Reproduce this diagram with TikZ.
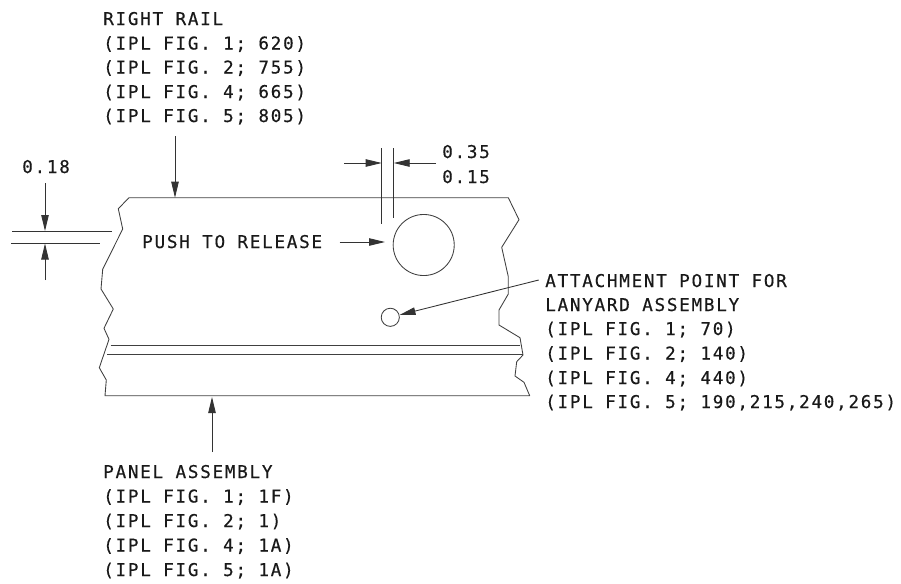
\documentclass[tikz,border=0pt]{standalone}
\usepackage{fontspec}
\setmainfont{DejaVu Sans}
\newfontfamily\cadfont[LetterSpace=9.9,FakeBold=0.4]{DejaVu Sans Mono}
\usetikzlibrary{arrows.meta}
\tikzset{
  every picture/.style={x=0.75pt,y=-0.75pt},
  outline/.style={draw=black!75,line width=0.65pt,line join=round},
  dimline/.style={draw=black!80,line width=0.65pt},
  pointer/.style={dimline,-{Triangle[length=12pt,width=5.6pt]}},
  cadtext/.style={inner sep=0pt,anchor=base west,font=\cadfont\fontsize{13.2pt}{15pt}\selectfont,text=black!90},
}
\begin{document}
\begin{tikzpicture}
\useasboundingbox (0,0) rectangle (901,583);
% panel outline
\draw[outline] (129,197.7) -- (508.3,197.7) -- (519,219.7) -- (501.7,247.3) -- (508.3,276.7) -- (508.3,294) -- (499,310) -- (499,325) -- (520,337.7) -- (523,355) -- (516.7,361.7) -- (515,376) -- (524,382.3) -- (529.7,395.7) -- (105,395.7) -- (106.3,380) -- (99.3,367.7) -- (109,339.3) -- (104,328.3) -- (113.3,309) -- (101,289) -- (102.7,269.3) -- (122.7,229) -- (118.3,208.7) -- cycle;
\draw[outline] (110.7,345) -- (520,345);
\draw[outline] (107,354.5) -- (523,354.5);
% circles
\node[outline,circle,minimum size=45.8pt,inner sep=0pt] (hole) at (423.7,245) {};
\node[outline,circle,minimum size=13.6pt,inner sep=0pt] (eye) at (390.3,317.3) {};
% coordinates
\coordinate (a1s) at (175,136); \coordinate (a1e) at (175,197.7);
\coordinate (a2s) at (212,452); \coordinate (a2e) at (212,397);
\coordinate (d1s) at (45,183); \coordinate (d1e) at (45,231);
\coordinate (d2s) at (45,280); \coordinate (d2e) at (45,243.5);
\coordinate (e1s) at (344,163); \coordinate (e1e) at (381.7,163);
\coordinate (e2s) at (436,163); \coordinate (e2e) at (393.7,163);
\coordinate (pushs) at (339.5,242); \coordinate (pushe) at (385,242);
\coordinate (ls) at (538.7,280);
% extension lines
\draw[dimline] (12,231) -- (112,231);
\draw[dimline] (11,243.5) -- (100,243.5);
\draw[dimline] (381.7,148) -- (381.7,224);
\draw[dimline] (393.7,148) -- (393.7,218);
% arrows
\draw[pointer] (a1s) -- (a1e);
\draw[pointer] (a2s) -- (a2e);
\draw[pointer] (d1s) -- (d1e);
\draw[pointer] (d2s) -- (d2e);
\draw[pointer] (e1s) -- (e1e);
\draw[pointer] (e2s) -- (e2e);
\draw[pointer] (pushs) -- (pushe);
\draw[pointer] (ls) -- (eye);
% text
\node[cadtext] (t018) at (22,173) {0.18};
\node[cadtext] (t035) at (442,158) {0.35};
\node[cadtext] (t015) at (442,183) {0.15};
\node[cadtext] (tpush) at (142,248) {PUSH TO RELEASE};
\node[cadtext] (r1) at (103,25) {RIGHT RAIL};
\node[cadtext] (r2) at (103,49.5) {(IPL FIG. 1; 620)};
\node[cadtext] (r3) at (103,73.5) {(IPL FIG. 2; 755)};
\node[cadtext] (r4) at (103,98) {(IPL FIG. 4; 665)};
\node[cadtext] (r5) at (103,122) {(IPL FIG. 5; 805)};
\node[cadtext] (l1) at (545,287) {ATTACHMENT POINT FOR};
\node[cadtext] (l2) at (545,311) {LANYARD ASSEMBLY};
\node[cadtext] (l3) at (545,335) {(IPL FIG. 1; 70)};
\node[cadtext] (l4) at (545,359.5) {(IPL FIG. 2; 140)};
\node[cadtext] (l5) at (545,384) {(IPL FIG. 4; 440)};
\node[cadtext] (l6) at (545,408) {(IPL FIG. 5; 190,215,240,265)};
\node[cadtext] (p1) at (103,478) {PANEL ASSEMBLY};
\node[cadtext] (p2) at (103,502.5) {(IPL FIG. 1; 1F)};
\node[cadtext] (p3) at (103,527) {(IPL FIG. 2; 1)};
\node[cadtext] (p4) at (103,551.5) {(IPL FIG. 4; 1A)};
\node[cadtext] (p5) at (103,576) {(IPL FIG. 5; 1A)};
\end{tikzpicture}
\end{document}
